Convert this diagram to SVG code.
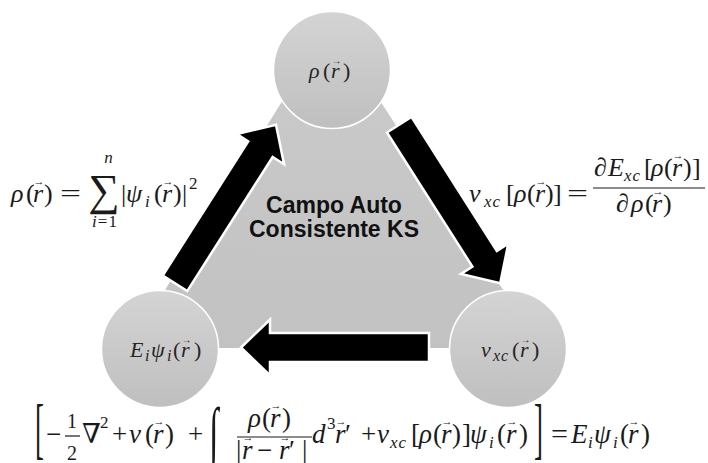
<svg xmlns="http://www.w3.org/2000/svg" width="708" height="463" viewBox="0 0 708 463">
  <defs>
    <linearGradient id="gNode" x1="0" y1="0" x2="0" y2="1">
      <stop offset="0" stop-color="#d4d4d4"/>
      <stop offset="1" stop-color="#bfbfbf"/>
    </linearGradient>
    <linearGradient id="gCore" x1="0" y1="0" x2="0" y2="1">
      <stop offset="0" stop-color="#cbcbcb"/>
      <stop offset="1" stop-color="#c2c2c2"/>
    </linearGradient>
    <!-- block arrow pointing along +x, centred on the origin -->
    <path id="blockArrow" d="M-94,-14.5 H65 V-28 L94,0 L65,28 V14.5 H-94 Z"/>
  </defs>
  <style>
    .node{fill:url(#gNode);stroke:#fff;stroke-width:1.5}
    .core{fill:url(#gCore)}
    .conn{fill:#000;stroke:#fff;stroke-width:2.5;stroke-linejoin:miter}
    .m{font-family:"Liberation Serif","DejaVu Serif",serif;font-size:26px;fill:#1a1a1a}
    .b{font-size:27px}
    .c{font-size:22px;fill:#262626}
    .i{font-style:italic}
    .s{font-size:17px;letter-spacing:1px}
    .cs{font-size:16px;letter-spacing:1px}
    .v{font-size:11px;text-anchor:middle;font-style:normal;letter-spacing:0}
    .vc{font-size:10px;text-anchor:middle;font-style:normal}
    .lbl{font-family:"Liberation Sans",Arial,sans-serif;font-weight:bold;font-size:23px;text-anchor:middle;fill:#111}
    .bar{stroke:#1a1a1a;stroke-width:1.2}
  </style>

  <rect width="708" height="463" fill="#fff"/>

  <!-- central KS cycle -->
  <g id="ks-cycle">
    <polygon class="core" points="330,24 129,348 541,348"/>
    <text class="lbl" x="334" y="213">Campo Auto</text>
    <text class="lbl" x="334" y="237">Consistente KS</text>
  </g>

  <!-- cycle arrows -->
  <g id="connectors">
    <use href="#blockArrow" class="conn" transform="translate(225.5,204) rotate(-57.5)"/>
    <use href="#blockArrow" class="conn" transform="translate(449.7,204) rotate(57.5)"/>
    <use href="#blockArrow" class="conn" transform="translate(335,347.5) rotate(180)"/>
  </g>

  <!-- density node -->
  <g id="node-density">
    <circle class="node" cx="332" cy="70" r="58.5"/>
    <text class="m c" y="78"><tspan class="i" x="309">ρ</tspan><tspan x="323">(</tspan><tspan class="i" x="331">r</tspan><tspan x="343">)</tspan></text>
    <text class="m vc" x="336.5" y="64">→</text>
  </g>

  <!-- orbital node -->
  <g id="node-orbitals">
    <circle class="node" cx="160" cy="349" r="58.5"/>
    <text class="m c" y="357"><tspan class="i" x="130">E</tspan><tspan class="i cs" x="145" y="361">i</tspan><tspan class="i" x="151" y="357">ψ</tspan><tspan class="i cs" x="167" y="361">i</tspan><tspan x="173" y="357">(</tspan><tspan class="i" x="181">r</tspan><tspan x="194">)</tspan></text>
    <text class="m vc" x="186.5" y="343">→</text>
  </g>

  <!-- exchange-correlation potential node -->
  <g id="node-vxc">
    <circle class="node" cx="508" cy="349" r="58.5"/>
    <text class="m c" y="357"><tspan class="i" x="481">v</tspan><tspan class="i cs" x="493" y="361">xc</tspan><tspan x="512" y="357">(</tspan><tspan class="i" x="520">r</tspan><tspan x="532">)</tspan></text>
    <text class="m vc" x="525.5" y="343">→</text>
  </g>

  <!-- density from orbitals -->
  <g id="eq-density">
    <text class="m" y="202"><tspan class="i" x="11">ρ</tspan><tspan x="26">(</tspan><tspan class="i" x="33">r</tspan><tspan x="44">)</tspan></text>
    <text class="m v" x="39" y="185">→</text>
    <text class="m" x="60" y="202" textLength="21" lengthAdjust="spacingAndGlyphs">=</text>
    <text class="m" x="104" y="205" style="font-size:44px" text-anchor="middle">∑</text>
    <text class="m i s" x="109" y="163" text-anchor="middle">n</text>
    <text class="m s" x="105" y="227" text-anchor="middle"><tspan class="i">i</tspan>=1</text>
    <text class="m" y="202"><tspan x="121">|</tspan><tspan class="i" x="126">ψ</tspan><tspan class="i s" x="145" y="207">i</tspan><tspan x="154" y="202">(</tspan><tspan class="i" x="162">r</tspan><tspan x="173">)</tspan><tspan x="182">|</tspan><tspan class="s" x="189" y="189">2</tspan></text>
    <text class="m v" x="168" y="185">→</text>
  </g>

  <!-- exchange-correlation potential as functional derivative -->
  <g id="eq-vxc">
    <text class="m" y="202"><tspan class="i" x="469">v</tspan><tspan class="i s" x="484" y="207">xc</tspan><tspan x="506" y="202">[</tspan><tspan class="i" x="514">ρ</tspan><tspan x="527">(</tspan><tspan class="i" x="535">r</tspan><tspan x="545">)</tspan><tspan x="553">]</tspan></text>
    <text class="m v" x="541" y="185">→</text>
    <text class="m" x="567" y="202" textLength="21" lengthAdjust="spacingAndGlyphs">=</text>
    <text class="m" y="176"><tspan class="i" x="594">∂</tspan><tspan class="i" x="608">E</tspan><tspan class="i s" x="624" y="181">xc</tspan><tspan x="644" y="176">[</tspan><tspan class="i" x="651">ρ</tspan><tspan x="664">(</tspan><tspan class="i" x="672">r</tspan><tspan x="683">)</tspan><tspan x="692">]</tspan></text>
    <text class="m v" x="678" y="159">→</text>
    <line class="bar" x1="593" y1="188" x2="705" y2="188"/>
    <text class="m" y="212"><tspan class="i" x="616">∂</tspan><tspan class="i" x="631">ρ</tspan><tspan x="645">(</tspan><tspan class="i" x="652">r</tspan><tspan x="663">)</tspan></text>
    <text class="m v" x="658" y="195">→</text>
  </g>

  <!-- Kohn-Sham equation -->
  <g id="eq-ks">
    <text class="m b" transform="translate(35,451) scale(1,2.5)">[</text>
    <text class="m b" y="443"><tspan x="46">−</tspan><tspan x="82">∇</tspan><tspan class="s" x="100" y="428">2</tspan><tspan x="112" y="443">+</tspan><tspan class="i" x="129">v</tspan><tspan x="145">(</tspan><tspan class="i" x="153">r</tspan><tspan x="165">)</tspan><tspan x="188">+</tspan></text>
    <text class="m" x="67" y="428" style="font-size:20px">1</text>
    <line class="bar" x1="65" y1="436" x2="80" y2="436"/>
    <text class="m" x="67" y="460" style="font-size:20px">2</text>
    <text class="m v" x="159" y="425">→</text>
    <text class="m" style="font-size:34px" transform="translate(209,455) scale(1,2)">∫</text>
    <text class="m b" y="427"><tspan class="i" x="248">ρ</tspan><tspan x="262">(</tspan><tspan class="i" x="270">r</tspan><tspan x="282">)</tspan></text>
    <text class="m v" x="276" y="409">→</text>
    <line class="bar" x1="237" y1="437" x2="312" y2="437"/>
    <text class="m b" y="459"><tspan x="236">|</tspan><tspan class="i" x="242">r</tspan><tspan x="257">−</tspan><tspan class="i" x="279">r</tspan><tspan x="289">′</tspan><tspan x="302">|</tspan></text>
    <text class="m v" x="248" y="441">→</text>
    <text class="m v" x="285" y="441">→</text>
    <text class="m b" y="443"><tspan class="i" x="312">d</tspan><tspan class="s" x="327" y="429">3</tspan><tspan class="i" x="335" y="443">r</tspan><tspan x="345">′</tspan><tspan x="361">+</tspan><tspan class="i" x="377">v</tspan><tspan class="i s" x="390" y="448">xc</tspan><tspan x="411" y="443">[</tspan><tspan class="i" x="419">ρ</tspan><tspan x="433">(</tspan><tspan class="i" x="441">r</tspan><tspan x="452">)</tspan><tspan x="462">]</tspan><tspan class="i" x="470">ψ</tspan><tspan class="i s" x="489" y="448">i</tspan><tspan x="497" y="443">(</tspan><tspan class="i" x="506">r</tspan><tspan x="519">)</tspan></text>
    <text class="m v" x="341" y="425">→</text>
    <text class="m v" x="447" y="425">→</text>
    <text class="m v" x="512" y="425">→</text>
    <text class="m b" transform="translate(534,451) scale(1,2.5)">]</text>
    <text class="m b" x="551" y="443" textLength="17" lengthAdjust="spacingAndGlyphs">=</text>
    <text class="m b" y="443"><tspan class="i" x="571">E</tspan><tspan class="i s" x="588" y="448">i</tspan><tspan class="i" x="594" y="443">ψ</tspan><tspan class="i s" x="613" y="448">i</tspan><tspan x="620" y="443">(</tspan><tspan class="i" x="628">r</tspan><tspan x="641">)</tspan></text>
    <text class="m v" x="634" y="425">→</text>
  </g>
</svg>
